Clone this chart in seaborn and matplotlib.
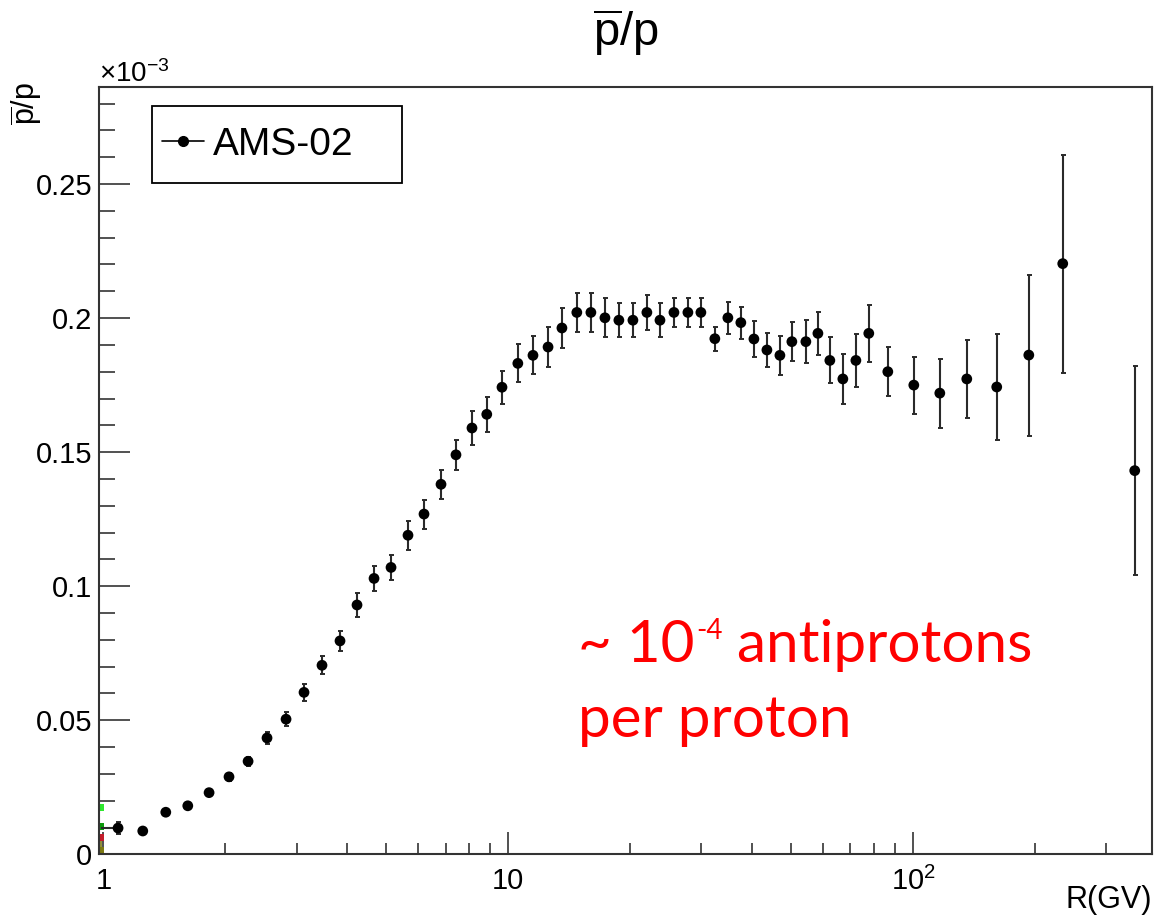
import numpy as np
import pandas as pd
import matplotlib
matplotlib.use('Agg')
import matplotlib.pyplot as plt
import seaborn as sns
from matplotlib.lines import Line2D
from matplotlib.patches import Rectangle
from matplotlib.ticker import FixedLocator, FixedFormatter, MultipleLocator, NullFormatter, FuncFormatter

# AMS-02 antiproton / proton ratio (values in units of 1e-3, as on the axis)
rigidity = [1.087, 1.251, 1.426, 1.616, 1.824, 2.043, 2.277, 2.536, 2.826, 3.130,
            3.467, 3.841, 4.231, 4.661, 5.134, 5.654, 6.193, 6.822, 7.428, 8.136,
            8.85, 9.65, 10.56, 11.51, 12.54, 13.57, 14.77, 16.00, 17.33, 18.76,
            20.32, 22.00, 23.70, 25.66, 27.78, 29.91, 32.38, 34.87, 37.54, 40.44,
            43.54, 46.88, 50.18, 54.34, 58.19, 62.28, 67.06, 72.22, 77.72, 86.6,
            100.4, 116.4, 135.7, 160.9, 193.1, 234.2, 352.7]
ratio = [0.0098, 0.0087, 0.0157, 0.0181, 0.0230, 0.0289, 0.0347, 0.0434, 0.0504, 0.0604,
         0.0705, 0.0796, 0.0930, 0.1029, 0.1070, 0.1190, 0.1269, 0.1380, 0.1490, 0.1590,
         0.1641, 0.1742, 0.1831, 0.1861, 0.1892, 0.1963, 0.2021, 0.2021, 0.2001, 0.1992,
         0.1992, 0.2021, 0.1992, 0.2021, 0.2021, 0.2021, 0.1923, 0.2001, 0.1983, 0.1922,
         0.1881, 0.1861, 0.1912, 0.1912, 0.1943, 0.1842, 0.1773, 0.1842, 0.1943, 0.1800,
         0.1750, 0.1720, 0.1773, 0.1743, 0.1862, 0.2203, 0.1431]
ratio_err = [0.0022, 0.0006, 0.0008, 0.0009, 0.0011, 0.0014, 0.0017, 0.0021, 0.0026, 0.0032,
             0.0034, 0.0037, 0.0045, 0.0047, 0.0047, 0.0055, 0.0054, 0.0055, 0.0055, 0.0065,
             0.0066, 0.0062, 0.0071, 0.0071, 0.0075, 0.0075, 0.0073, 0.0073, 0.0073, 0.0064,
             0.0064, 0.0064, 0.0064, 0.0054, 0.0054, 0.0054, 0.0045, 0.0060, 0.0060, 0.0066,
             0.0065, 0.0073, 0.0073, 0.0080, 0.0080, 0.0086, 0.0093, 0.0100, 0.0106, 0.0091,
             0.0106, 0.0129, 0.0144, 0.0198, 0.0300, 0.0407, 0.0390]
first_xerr_low = 0.10

# other series, only visible at the left edge (R ~ 1)
edge_series = ['s1', 's2', 's3', 's4']
edge_rigidity = [0.985, 0.985, 0.985, 0.985]
edge_ratio = [0.0174, 0.0103, 0.0062, 0.0012]
edge_err = [0.0, 0.0, 0.0, 0.005]
EDGE_COLORS = ['#2ee82e', '#0b9a0b', '#c41c2a', '#7d7a12']

y_ticks = [0, 0.05, 0.1, 0.15, 0.2, 0.25]
x_ticks = [1, 10, 100]
x_tick_labels = ['1', '10', r'$10^{2}$']

sns.set_theme(style='white')
plt.rcParams['font.family'] = ['Liberation Sans', 'DejaVu Sans']
plt.rcParams['text.color'] = 'black'
plt.rcParams['axes.labelcolor'] = 'black'
plt.rcParams['mathtext.fontset'] = 'custom'
plt.rcParams['mathtext.rm'] = 'Liberation Sans'
plt.rcParams['mathtext.it'] = 'Liberation Sans:italic'
plt.rcParams['mathtext.bf'] = 'Liberation Sans:bold'

df = pd.DataFrame({'R': rigidity, 'ratio': ratio, 'err': ratio_err})
edge_df = pd.DataFrame({'series': edge_series, 'R': edge_rigidity, 'ratio': edge_ratio})

fig = plt.figure(figsize=(11.56, 9.22), dpi=100)
ax = fig.add_axes([0.0859, 0.0734, 0.9106, 0.8326])
ax.set_xscale('log')

# left-edge series
ax.errorbar(edge_rigidity, edge_ratio, yerr=edge_err, fmt='none',
            ecolor=EDGE_COLORS[3], elinewidth=1.2, capsize=0, zorder=2)
sns.scatterplot(data=edge_df, x='R', y='ratio', hue='series', palette=EDGE_COLORS,
                marker='s', s=28, edgecolor='none', legend=False, ax=ax, zorder=2)

# AMS-02 points with error bars
ax.errorbar(df['R'], df['ratio'], yerr=df['err'], fmt='none', ecolor='#2a2a2a',
            elinewidth=1.5, capsize=1.8, capthick=1.4, zorder=3)
ax.errorbar([rigidity[0]], [ratio[0]], xerr=[[first_xerr_low], [0]], fmt='none',
            ecolor='#2a2a2a', elinewidth=1.5, capsize=0, zorder=3)
sns.scatterplot(data=df, x='R', y='ratio', color='black', s=60, edgecolor='none',
                legend=False, ax=ax, zorder=4)

ax.set_xlim(0.977, 389)
ax.set_ylim(0, 0.2863)

# axis ticks, ROOT style (inside)
ax.xaxis.set_major_locator(FixedLocator(x_ticks))
ax.xaxis.set_major_formatter(FixedFormatter(x_tick_labels))
ax.xaxis.set_minor_locator(FixedLocator([m * d for d in (1, 10, 100) for m in range(2, 10)]))
ax.xaxis.set_minor_formatter(NullFormatter())
ax.yaxis.set_major_locator(FixedLocator(y_ticks))
ax.yaxis.set_major_formatter(FuncFormatter(lambda v, p: '%g' % v))
ax.yaxis.set_minor_locator(MultipleLocator(0.01))

ax.tick_params(which='both', direction='in', top=False, right=False, bottom=True, left=True,
               color='#222222', width=1.1, labelsize=21, labelcolor='black')
ax.tick_params(axis='y', which='major', length=22, pad=5)
ax.tick_params(axis='y', which='minor', length=11.5)
ax.tick_params(axis='x', which='major', length=16, pad=9)
ax.tick_params(axis='x', which='minor', length=8)

for side in ['left', 'right', 'top', 'bottom']:
    ax.spines[side].set_visible(True)
    ax.spines[side].set_linewidth(1.5)
    ax.spines[side].set_color('#333333')

ax.set_title(r'$\overline{\mathrm{p}}\mathrm{/p}$', fontsize=34, pad=29, color='black')
ax.set_ylabel(r'$\overline{\mathrm{p}}\mathrm{/p}$', fontsize=22, loc='top')
ax.yaxis.set_label_coords(-0.0516, 1.006)
ax.set_xlabel('R(GV)', fontsize=22, loc='right')
ax.xaxis.set_label_coords(1.0, -0.040)

ax.text(0.0, 1.0065, r'$\times10^{-3}$', transform=ax.transAxes,
        ha='left', va='baseline', fontsize=20)

# legend: ROOT-like box
ax.add_patch(Rectangle((0.050, 0.8746), 0.2375, 0.1004, transform=ax.transAxes,
                       fill=False, edgecolor='black', linewidth=1.3, zorder=5))
handle = Line2D([], [], color='black', marker='o', markersize=7, linewidth=1.2)
leg = ax.legend([handle], ['AMS-02'], loc='center left', bbox_to_anchor=(0.050, 0.924),
                fontsize=28, frameon=False, borderaxespad=0, borderpad=0.25,
                handlelength=1.08, handletextpad=0.23)
for txt in leg.get_texts():
    txt.set_color('black')

# annotation in red
red = '#ff0000'
t1 = ax.text(0.4547, 0.2505, '~ 10', transform=ax.transAxes, ha='left',
             va='baseline', fontsize=42, color=red, family='Lato')
sup = ax.annotate('-4', xy=(1, 1), xycoords=t1, xytext=(1, 1), textcoords='offset points',
                  ha='left', va='top', fontsize=20, color=red, family='Lato')
ax.annotate(' antiprotons', xy=(1, 0), xycoords=(sup, t1), ha='left', va='bottom',
            fontsize=42, color=red, family='Lato')
ax.text(0.4547, 0.1528, 'per proton', transform=ax.transAxes, ha='left',
        va='baseline', fontsize=42, color=red, family='Lato')

fig.savefig('out.png', dpi=100)
